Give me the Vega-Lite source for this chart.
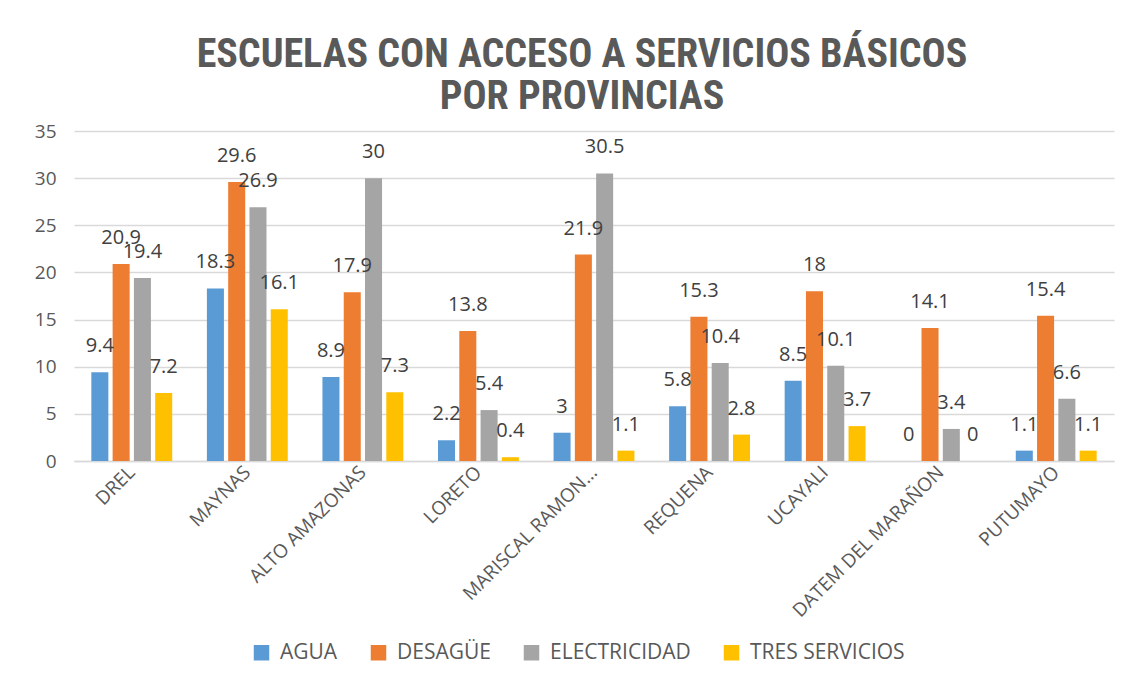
{
  "$schema": "https://vega.github.io/schema/vega-lite/v6.json",
  "width": 1040,
  "height": 330,
  "padding": {"left": 34, "top": 35, "right": 20, "bottom": 0},
  "background": "white",
  "title": {
    "text": ["ESCUELAS CON ACCESO A  SERVICIOS BÁSICOS", "POR PROVINCIAS"],
    "font": "Roboto Condensed, Liberation Sans Narrow, Liberation Sans",
    "fontSize": 40,
    "fontWeight": "bold",
    "color": "#595959",
    "lineHeight": 42,
    "offset": 5,
    "anchor": "middle",
    "dx": -12
  },
  "data": {
    "values": [
      {"prov": "DREL", "serie": "AGUA", "valor": 9.4},
      {"prov": "DREL", "serie": "DESAGÜE", "valor": 20.9},
      {"prov": "DREL", "serie": "ELECTRICIDAD", "valor": 19.4},
      {"prov": "DREL", "serie": "TRES SERVICIOS", "valor": 7.2},
      {"prov": "MAYNAS", "serie": "AGUA", "valor": 18.3},
      {"prov": "MAYNAS", "serie": "DESAGÜE", "valor": 29.6},
      {"prov": "MAYNAS", "serie": "ELECTRICIDAD", "valor": 26.9},
      {"prov": "MAYNAS", "serie": "TRES SERVICIOS", "valor": 16.1},
      {"prov": "ALTO AMAZONAS", "serie": "AGUA", "valor": 8.9},
      {"prov": "ALTO AMAZONAS", "serie": "DESAGÜE", "valor": 17.9},
      {"prov": "ALTO AMAZONAS", "serie": "ELECTRICIDAD", "valor": 30},
      {"prov": "ALTO AMAZONAS", "serie": "TRES SERVICIOS", "valor": 7.3},
      {"prov": "LORETO", "serie": "AGUA", "valor": 2.2},
      {"prov": "LORETO", "serie": "DESAGÜE", "valor": 13.8},
      {"prov": "LORETO", "serie": "ELECTRICIDAD", "valor": 5.4},
      {"prov": "LORETO", "serie": "TRES SERVICIOS", "valor": 0.4},
      {"prov": "MARISCAL RAMON CASTILLA", "serie": "AGUA", "valor": 3},
      {"prov": "MARISCAL RAMON CASTILLA", "serie": "DESAGÜE", "valor": 21.9},
      {"prov": "MARISCAL RAMON CASTILLA", "serie": "ELECTRICIDAD", "valor": 30.5},
      {"prov": "MARISCAL RAMON CASTILLA", "serie": "TRES SERVICIOS", "valor": 1.1},
      {"prov": "REQUENA", "serie": "AGUA", "valor": 5.8},
      {"prov": "REQUENA", "serie": "DESAGÜE", "valor": 15.3},
      {"prov": "REQUENA", "serie": "ELECTRICIDAD", "valor": 10.4},
      {"prov": "REQUENA", "serie": "TRES SERVICIOS", "valor": 2.8},
      {"prov": "UCAYALI", "serie": "AGUA", "valor": 8.5},
      {"prov": "UCAYALI", "serie": "DESAGÜE", "valor": 18},
      {"prov": "UCAYALI", "serie": "ELECTRICIDAD", "valor": 10.1},
      {"prov": "UCAYALI", "serie": "TRES SERVICIOS", "valor": 3.7},
      {"prov": "DATEM DEL MARAÑON", "serie": "AGUA", "valor": 0},
      {"prov": "DATEM DEL MARAÑON", "serie": "DESAGÜE", "valor": 14.1},
      {"prov": "DATEM DEL MARAÑON", "serie": "ELECTRICIDAD", "valor": 3.4},
      {"prov": "DATEM DEL MARAÑON", "serie": "TRES SERVICIOS", "valor": 0},
      {"prov": "PUTUMAYO", "serie": "AGUA", "valor": 1.1},
      {"prov": "PUTUMAYO", "serie": "DESAGÜE", "valor": 15.4},
      {"prov": "PUTUMAYO", "serie": "ELECTRICIDAD", "valor": 6.6},
      {"prov": "PUTUMAYO", "serie": "TRES SERVICIOS", "valor": 1.1}
    ]
  },
  "encoding": {
    "x": {
      "field": "prov",
      "type": "nominal",
      "sort": ["DREL", "MAYNAS", "ALTO AMAZONAS", "LORETO", "MARISCAL RAMON CASTILLA", "REQUENA", "UCAYALI", "DATEM DEL MARAÑON", "PUTUMAYO"],
      "scale": {"paddingInner": 0.3, "paddingOuter": 0.15},
      "axis": {
        "title": null,
        "labelAngle": -45,
        "labelAlign": "right",
        "labelBaseline": "middle",
        "labelFont": "Open Sans",
        "labelFontSize": 19,
        "labelColor": "#595959",
        "labelLimit": 320,
        "labelExpr": "datum.label == 'MARISCAL RAMON CASTILLA' ? 'MARISCAL RAMON...' : datum.label",
        "labelPadding": 8,
        "ticks": false,
        "domainColor": "#d9d9d9",
        "domainWidth": 1.5,
        "grid": false
      }
    },
    "xOffset": {
      "field": "serie",
      "type": "nominal",
      "sort": ["AGUA", "DESAGÜE", "ELECTRICIDAD", "TRES SERVICIOS"],
      "scale": {"paddingInner": 0.2}
    },
    "y": {
      "field": "valor",
      "type": "quantitative",
      "scale": {"domain": [0, 35]},
      "axis": {
        "title": null,
        "values": [0, 5, 10, 15, 20, 25, 30, 35],
        "labelFont": "Open Sans",
        "labelFontSize": 19,
        "labelColor": "#595959",
        "labelPadding": 18,
        "ticks": false,
        "domain": false,
        "gridColor": "#d9d9d9",
        "gridWidth": 1.5
      }
    }
  },
  "layer": [
    {
      "mark": {"type": "bar"},
      "encoding": {
        "color": {
          "field": "serie",
          "type": "nominal",
          "sort": ["AGUA", "DESAGÜE", "ELECTRICIDAD", "TRES SERVICIOS"],
          "scale": {
            "domain": ["AGUA", "DESAGÜE", "ELECTRICIDAD", "TRES SERVICIOS"],
            "range": ["#5B9BD5", "#ED7D31", "#A5A5A5", "#FFC000"]
          },
          "legend": {
            "title": null,
            "orient": "none",
            "direction": "horizontal",
            "legendX": 177,
            "legendY": 511,
            "symbolType": "square",
            "symbolSize": 240,
            "symbolStrokeWidth": 0,
            "labelFont": "Open Sans",
            "labelFontSize": 21,
            "labelColor": "#595959",
            "labelLimit": 300,
            "columnPadding": 30,
            "labelOffset": 8
          }
        }
      }
    },
    {
      "mark": {
        "type": "text",
        "baseline": "bottom",
        "dy": -16,
        "font": "Open Sans",
        "fontSize": 20,
        "color": "#404040"
      },
      "encoding": {
        "text": {"field": "valor", "type": "quantitative"}
      }
    }
  ],
  "config": {
    "view": {"stroke": null}
  }
}
